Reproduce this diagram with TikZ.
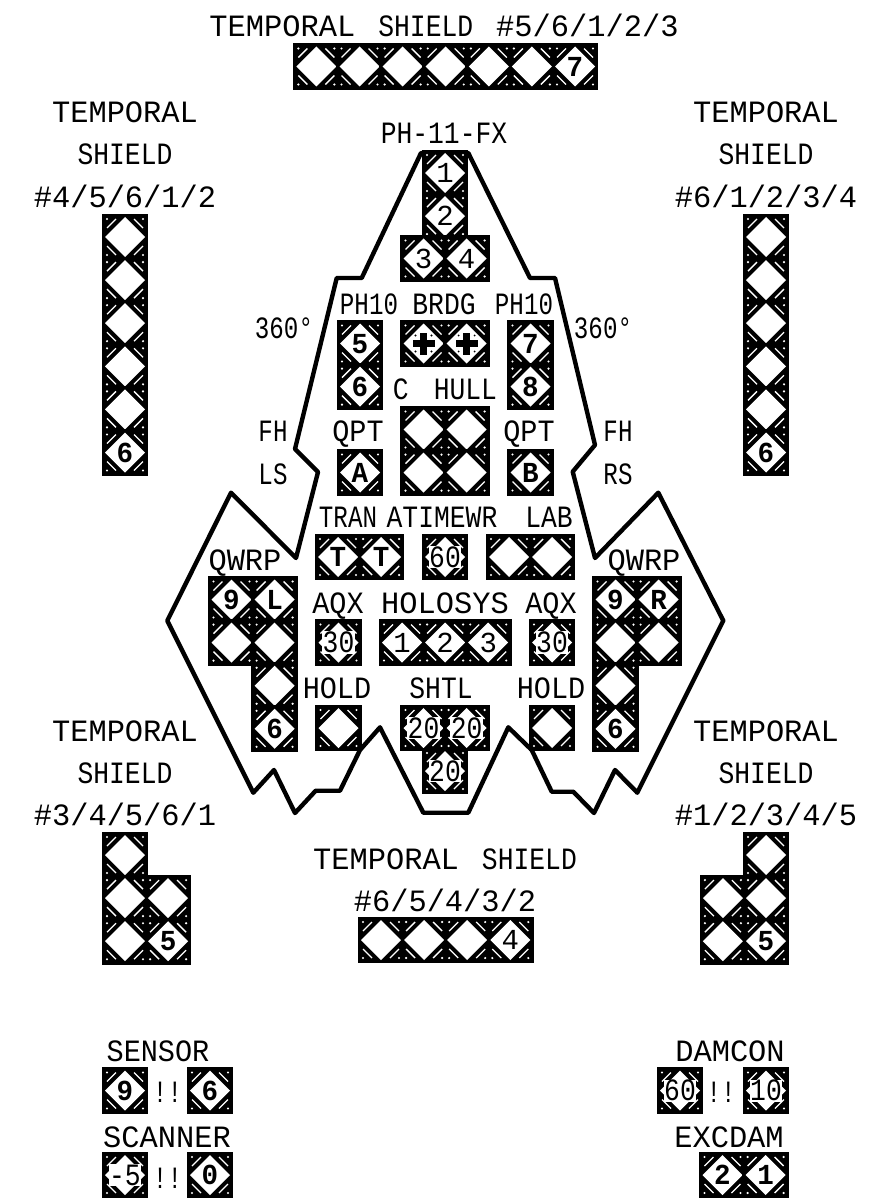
\documentclass[tikz,border=0pt]{standalone}
\usepackage{fontspec}
\usepackage{xcolor}
\usetikzlibrary{positioning}
\newfontfamily\ssdwide[FakeStretch=0.98]{Liberation Mono}
\newfontfamily\ssdfont[FakeStretch=0.92]{Liberation Mono}
\newfontfamily\ssdmid[FakeStretch=0.85]{Liberation Mono}
\newfontfamily\ssdthin[FakeStretch=0.78]{Liberation Mono}
\newfontfamily\cellfont{Liberation Mono}
\newfontfamily\cellbold[FakeStretch=0.95]{Liberation Mono Bold}
\newfontfamily\cellnarrow[FakeStretch=0.85]{Liberation Mono}
\newcommand{\cellart}{%
  \begin{scope}[shift={(path picture bounding box.center)}]
    \fill[white] (-20pt,0pt) -- (0pt,20pt) -- (20pt,0pt) -- (0pt,-20pt) -- cycle;
    \foreach \sx/\sy in {-1/-1,-1/1,1/-1,1/1} {
      \fill[white] (\sx*18pt,\sy*18pt) circle (1.2pt);
      \draw[white, line width=1.3pt] (\sx*18pt,\sy*9pt) -- (\sx*9pt,\sy*18pt);
    }
  \end{scope}}
\newcommand{\num}[1]{\makebox[0pt]{\smash{\raisebox{-0.33em}{#1}}}}
\newcommand{\wide}[1]{\makebox[0pt]{\smash{\raisebox{-0.33em}{\setlength{\fboxsep}{0.5pt}\colorbox{white}{#1}}}}}
\begin{document}
\begin{tikzpicture}[
  x=1pt, y=-1pt,
  cell/.style={rectangle, fill=black, minimum size=46.7pt, inner sep=0pt, text=black,
    font=\fontsize{29}{29}\cellfont, path picture={\cellart}},
  boldcell/.style={cell, font=\fontsize{29}{29}\cellbold},
  widecell/.style={cell, font=\fontsize{31}{31}\cellnarrow},
  crosscell/.style={cell, path picture={\cellart
    \begin{scope}[shift={(path picture bounding box.center)}]
      \fill[black] (-3.5pt,-11pt) rectangle (3.5pt,11pt);
      \fill[black] (-11pt,-3.5pt) rectangle (11pt,3.5pt);
      \foreach \sx/\sy in {-1/-1,-1/1,1/-1,1/1} {\fill[black] (\sx*8pt,\sy*8pt) circle (1.1pt);}
    \end{scope}}},
  lbl/.style={font=\fontsize{31}{31}\ssdfont, inner sep=0pt, text height=20pt, text depth=0pt},
  widelbl/.style={lbl, font=\fontsize{31}{31}\ssdwide},
  midlbl/.style={lbl, font=\fontsize{31}{31}\ssdmid},
  thinlbl/.style={lbl, font=\fontsize{31}{31}\ssdthin},
  hull/.style={draw=black, line width=4.4pt, line join=round}
]
\useasboundingbox (0,0) rectangle (870,1198);

% hull outline
\draw [hull] (421,153) -- (361.7,278) -- (336.7,278) -- (295,449) -- (318,472) -- (296,558)
  -- (231,492.7) -- (167.3,620.7) -- (253.3,792.7) -- (274,770) -- (295,813) -- (315.7,790.7)
  -- (340,790.7) -- (360,750) -- (380,727.3) -- (423.3,812.7) -- (468.3,812.7) -- (508.3,727.3)
  -- (531.7,750) -- (551.7,791.7) -- (573.3,791.7) -- (594,813) -- (615,770) -- (637.3,792.7)
  -- (723.3,620.7) -- (658.3,492.7) -- (595,558) -- (572.7,471.7) -- (595,445) -- (555,278)
  -- (530,278) -- (468.3,153) -- cycle;

% top shield
\node (top1) [cell] at (316.4,66.5) {};
\foreach \i [remember=\i as \j (initially 1)] in {2,...,6}
  \node (top\i) [cell, right=-4pt of top\j] {};
\node (top7) [boldcell, right=-4pt of top6] {\num{7}};
\node (toplbl) [widelbl] at (444,27) {TEMPORAL\hspace{23pt}{\ssdmid SHIELD}\hspace{23pt}\#5/6/1/2/3};

% left and right shields
\node (lft1) [cell] at (125,237) {};
\node (rgt1) [cell] at (766,237) {};
\foreach \i [remember=\i as \j (initially 1)] in {2,...,5} {
  \node (lft\i) [cell, below=-4pt of lft\j] {};
  \node (rgt\i) [cell, below=-4pt of rgt\j] {};
}
\node (lft6) [boldcell, below=-4pt of lft5] {\num{6}};
\node (rgt6) [boldcell, below=-4pt of rgt5] {\num{6}};
\node (lfta) [widelbl] at (125,113) {TEMPORAL};
\node (lftb) [midlbl] at (125,155) {SHIELD};
\node (lftc) [widelbl] at (125,198) {\#4/5/6/1/2};
\node (rgta) [widelbl] at (766,113) {TEMPORAL};
\node (rgtb) [midlbl] at (766,155) {SHIELD};
\node (rgtc) [widelbl] at (766,198) {\#6/1/2/3/4};

% ph-11
\node (ph1) [cell] at (445,173) {\num{1}};
\node (ph2) [cell, below=-4pt of ph1] {\num{2}};
\node (ph3) [cell] at (423.5,258.5) {\num{3}};
\node (ph4) [cell, right=-4pt of ph3] {\num{4}};
\node (phlbl) [midlbl] at (444,134) {PH-11-FX};

% ph10 and bridge
\node (ph5) [boldcell] at (360,343.5) {\num{5}};
\node (ph6) [boldcell, below=-4pt of ph5] {\num{6}};
\node (ph7) [boldcell] at (530.5,343.5) {\num{7}};
\node (ph8) [boldcell, below=-4pt of ph7] {\num{8}};
\node (brdg1) [crosscell] at (423.5,343.5) {};
\node (brdg2) [crosscell, right=-4pt of brdg1] {};
\node (ph10a) [thinlbl] at (369,304) {PH10};
\node (brdglbl) [midlbl] at (444,304) {BRDG};
\node (ph10b) [thinlbl] at (524,304) {PH10};
\node (degl) [thinlbl] at (284,328) {360°};
\node (degr) [thinlbl] at (603,328) {360°};

% centre hull
\node (hull1) [cell] at (423.5,429.5) {};
\node (hull2) [cell, right=-4pt of hull1] {};
\node (hull3) [cell, below=-4pt of hull1] {};
\node (hull4) [cell, right=-4pt of hull3] {};
\node (hulllbl) [midlbl] at (445,389) {C\hspace{25pt}HULL};
\node (qpta) [boldcell] at (360,472.5) {\num{A}};
\node (qptb) [boldcell] at (530.5,472.5) {\num{B}};
\node (qptl) [lbl] at (358,431) {QPT};
\node (qptr) [lbl] at (529,431) {QPT};
\node (fhl) [thinlbl] at (273,431) {FH};
\node (lsl) [thinlbl] at (273,474) {LS};
\node (fhr) [thinlbl] at (618,431) {FH};
\node (rsl) [thinlbl] at (618,474) {RS};

% tran, atimewr, lab
\node (tran1) [boldcell] at (338,557) {\num{T}};
\node (tran2) [boldcell, right=-4pt of tran1] {\num{T}};
\node (atime) [widecell] at (445,557) {\wide{60}};
\node (lab1) [cell] at (509,557) {};
\node (lab2) [cell, right=-4pt of lab1] {};
\node (tranlbl) [thinlbl] at (348,517) {TRAN};
\node (atimelbl) [midlbl] at (442,517) {ATIMEWR};
\node (lablbl) [midlbl] at (549,517) {LAB};

% qwrp
\node (qwl1) [boldcell] at (231.5,599.5) {\num{9}};
\node (qwl2) [boldcell, right=-4pt of qwl1] {\num{L}};
\node (qwl3) [cell, below=-4pt of qwl1] {};
\node (qwl4) [cell, right=-4pt of qwl3] {};
\node (qwl5) [cell, below=-4pt of qwl4] {};
\node (qwl6) [boldcell, below=-4pt of qwl5] {\num{6}};
\node (qwr1) [boldcell] at (615.5,599.5) {\num{9}};
\node (qwr2) [boldcell, right=-4pt of qwr1] {\num{R}};
\node (qwr3) [cell, below=-4pt of qwr1] {};
\node (qwr4) [cell, right=-4pt of qwr3] {};
\node (qwr5) [cell, below=-4pt of qwr3] {};
\node (qwr6) [boldcell, below=-4pt of qwr5] {\num{6}};
\node (qwlbl) [widelbl] at (245,560) {QWRP};
\node (qwrbl) [widelbl] at (644,560) {QWRP};

% aqx, holosys
\node (aqxl) [widecell] at (338.5,642.5) {\wide{30}};
\node (aqxr) [widecell] at (552,642.5) {\wide{30}};
\node (holo1) [cell] at (402,642.5) {\num{1}};
\node (holo2) [cell, right=-4pt of holo1] {\num{2}};
\node (holo3) [cell, right=-4pt of holo2] {\num{3}};
\node (aqxa) [lbl] at (338,603) {AQX};
\node (holosys) [widelbl] at (445,603) {HOLOSYS};
\node (aqxb) [lbl] at (551,603) {AQX};

% hold, shuttle
\node (holdl) [cell] at (338.5,728) {};
\node (holdr) [cell] at (552,728) {};
\node (sh1) [widecell] at (423.5,728) {\wide{20}};
\node (sh2) [widecell, right=-4pt of sh1] {\wide{20}};
\node (sh3) [widecell] at (445,771) {\wide{20}};
\node (holda) [lbl] at (337,688) {HOLD};
\node (shtl) [midlbl] at (441,688) {SHTL};
\node (holdb) [lbl] at (551,688) {HOLD};

% lower shields
\node (sl1) [cell] at (125,855) {};
\node (sl2) [cell, below=-4pt of sl1] {};
\node (sl3) [cell, right=-4pt of sl2] {};
\node (sl4) [cell, below=-4pt of sl2] {};
\node (sl5) [boldcell, right=-4pt of sl4] {\num{5}};
\node (slta) [widelbl] at (125,731) {TEMPORAL};
\node (sltb) [midlbl] at (125,773) {SHIELD};
\node (sltc) [widelbl] at (125,815) {\#3/4/5/6/1};
\node (sr1) [cell] at (766,855) {};
\node (sr2) [cell, below=-4pt of sr1] {};
\node (sr3) [cell, left=-4pt of sr2] {};
\node (sr4) [boldcell, below=-4pt of sr2] {\num{5}};
\node (sr5) [cell, left=-4pt of sr4] {};
\node (srta) [widelbl] at (766,731) {TEMPORAL};
\node (srtb) [midlbl] at (766,773) {SHIELD};
\node (srtc) [widelbl] at (766,815) {\#1/2/3/4/5};
\node (bt1) [cell] at (381,940) {};
\node (bt2) [cell, right=-4pt of bt1] {};
\node (bt3) [cell, right=-4pt of bt2] {};
\node (bt4) [cell, right=-4pt of bt3] {\num{4}};
\node (btla) [widelbl] at (445,859) {TEMPORAL\hspace{23pt}{\ssdmid SHIELD}};
\node (btlb) [widelbl] at (445,901) {\#6/5/4/3/2};

% sensor, scanner, damcon, excdam
\node (sen1) [boldcell] at (125,1090.5) {\num{9}};
\node (sen2) [boldcell] at (210,1090.5) {\num{6}};
\node (senx) [thinlbl] at (167.5,1092.5) {!!};
\node (senlbl) [lbl] at (158,1051) {SENSOR};
\node (scn1) [widecell] at (125,1175) {\wide{-5}};
\node (scn2) [boldcell] at (210,1175) {\num{0}};
\node (scnx) [thinlbl] at (167.5,1178) {!!};
\node (scnlbl) [widelbl] at (167,1137) {SCANNER};
\node (dam1) [widecell] at (680,1090.5) {\wide{60}};
\node (dam2) [widecell] at (766,1090.5) {\wide{10}};
\node (damx) [thinlbl] at (721,1092.5) {!!};
\node (damlbl) [widelbl] at (730,1051) {DAMCON};
\node (exc1) [boldcell] at (722.5,1175) {\num{2}};
\node (exc2) [boldcell, right=-4pt of exc1] {\num{1}};
\node (exclbl) [widelbl] at (729,1137) {EXCDAM};

\end{tikzpicture}
\end{document}
